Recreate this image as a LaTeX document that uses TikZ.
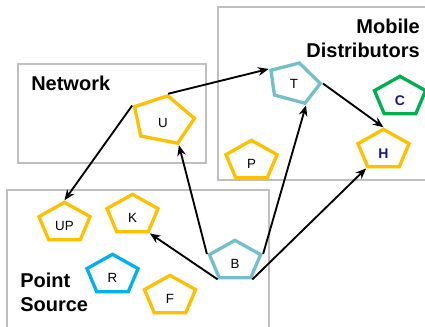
\documentclass[tikz,border=0pt]{standalone}
\usepackage{fontspec}
\setmainfont{Liberation Sans}
\usetikzlibrary{shapes.geometric,arrows.meta}
\definecolor{gold}{HTML}{FFC000}
\definecolor{aqua}{HTML}{73C0C8}
\definecolor{leaf}{HTML}{00B050}
\definecolor{sky}{HTML}{00B0F0}
\definecolor{ink}{HTML}{1A1A80}
\definecolor{frame}{HTML}{BFBFBF}
\begin{document}
\begin{tikzpicture}[x=0.75pt,y=-0.75pt,
        pent/.style={regular polygon,regular polygon sides=5,draw=#1,line width=2.5pt,
          inner sep=0pt,minimum size=31pt,xscale=1.3,transform shape},
        tag/.style={font=\fontsize{10}{12}\selectfont},
        bigtag/.style={font=\fontsize{10.5}{12}\selectfont\bfseries,text=ink},
        title/.style={font=\fontsize{15}{18}\selectfont\bfseries,inner sep=0pt},
        area/.style={draw=frame,line width=0.8pt},
        link/.style={-{Stealth[length=8pt,width=6.5pt]},line width=1.4pt}]
        \useasboundingbox (0,0) rectangle (425,326);
        \clip (0,0) rectangle (425,326);
        % the three areas
        \draw[area] (18,64) rectangle (206,163);
        \draw[area] (218,7) rectangle (440,180);
        \draw[area] (7,190) rectangle (269,340);
        \node[title,anchor=base west] (net) at (31,90) {Network};
        \node[title,align=right,anchor=base east] (mob) at (420,57) {Mobile\\Distributors};
        \node[title,align=left,anchor=base west] (src) at (20,311) {Point\\Source};
        % pentagons
        \node[rotate=-11,pent=gold,minimum size=37pt] (U) at (163,120) {};
        \node[rotate=-15,pent=aqua] (T) at (294,83) {};
        \node[pent=gold] (P) at (251.5,161) {};
        \node[pent=leaf] (C) at (400,97) {};
        \node[pent=gold] (H) at (383.5,150) {};
        \node[pent=gold] (UP) at (64.5,223) {};
        \node[pent=gold] (K) at (132.5,215) {};
        \node[pent=sky] (R) at (112.5,275) {};
        \node[pent=gold] (F) at (170,296) {};
        \node[pent=aqua] (B) at (235,261) {};
        \node[tag] (Ut) at ([yshift=-2.5pt]U.center) {U};
        \node[tag] (Tt) at ([yshift=-1pt]T.center) {T};
        \node[tag] (Pt) at ([yshift=-2.5pt]P.center) {P};
        \node[bigtag] (Ct) at ([yshift=-2.5pt]C.center) {C};
        \node[bigtag] (Ht) at ([yshift=-2.5pt]H.center) {H};
        \node[tag] (UPt) at ([yshift=-2.5pt]UP.center) {UP};
        \node[tag] (Kt) at ([yshift=-2.5pt]K.center) {K};
        \node[tag] (Rt) at ([yshift=-2.5pt]R.center) {R};
        \node[tag] (Ft) at ([yshift=-2.5pt]F.center) {F};
        \node[tag] (Bt) at ([yshift=-2.5pt]B.center) {B};
        % flows
        \draw[link] (U.corner 1) -- (T.corner 2);
        \draw[link] (U.corner 2) -- (UP.corner 1);
        \draw[link] (B.corner 2) -- (U.corner 4);
        \draw[link] (B.corner 5) -- (T.corner 4);
        \draw[link] (B.corner 3) -- (K.corner 4);
        \draw[link] (B.corner 4) -- (H.corner 3);
        \draw[link] (T.corner 5) -- (H.corner 1);
\end{tikzpicture}
\end{document}
